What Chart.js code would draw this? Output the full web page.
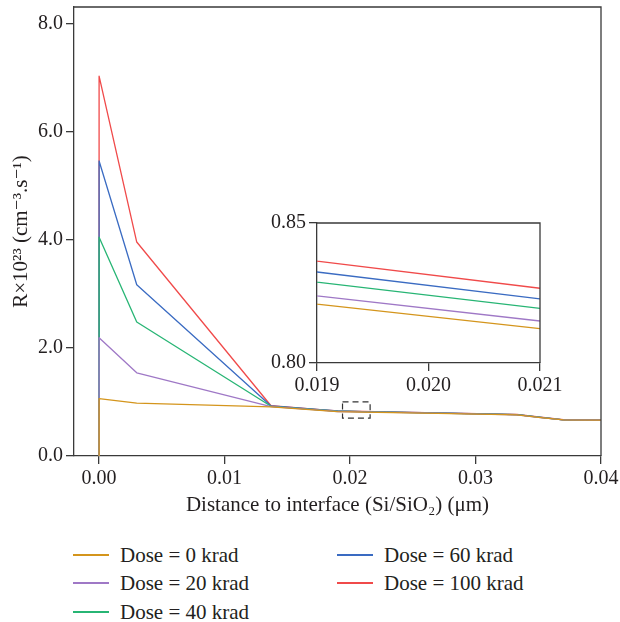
<!DOCTYPE html>
<html><head><meta charset="utf-8">
<script src="https://cdn.jsdelivr.net/npm/chart.js@4.4.1/dist/chart.umd.min.js"></script>
<style>
html,body{margin:0;padding:0;background:#fff;}
#wrap{position:relative;width:620px;height:622px;overflow:hidden;}
#main{position:absolute;left:0;top:0;}
#inset{position:absolute;left:262px;top:209px;}
.leg{position:absolute;font-family:"Liberation Serif","DejaVu Serif",serif;font-size:21px;color:#231f20;line-height:24px;white-space:nowrap;}
.leg span.sw{position:absolute;left:0;top:11px;width:36px;height:2px;}
.leg span.tx{position:absolute;left:47px;top:0;}
</style></head>
<body><div id="wrap">
<canvas id="main" width="620" height="530"></canvas>
<canvas id="inset" width="300" height="190"></canvas>
<div id="legend"></div>
</div>
<script>
// ---- data ----
const distance = [0, 0, 0.003, 0.0137, 0.0176, 0.019, 0.021, 0.027, 0.0333, 0.0352, 0.037, 0.04];
const dose0   = [0, 1.06, 0.98, 0.910, 0.845, 0.8210, 0.8123, 0.790, 0.760, 0.710, 0.667, 0.665];
const dose20  = [0, 2.19, 1.54, 0.915, 0.848, 0.8240, 0.8150, 0.792, 0.762, 0.712, 0.668, 0.666];
const dose40  = [0, 4.05, 2.48, 0.920, 0.852, 0.8289, 0.8195, 0.795, 0.764, 0.714, 0.669, 0.667];
const dose60  = [0, 5.46, 3.17, 0.925, 0.856, 0.8325, 0.8229, 0.798, 0.766, 0.716, 0.670, 0.668];
const dose100 = [0, 7.03, 3.96, 0.930, 0.860, 0.8364, 0.8267, 0.800, 0.768, 0.718, 0.671, 0.669];
const seriesLabels = ['Dose = 0 krad', 'Dose = 20 krad', 'Dose = 40 krad', 'Dose = 60 krad', 'Dose = 100 krad'];
const seriesValues = [dose0, dose20, dose40, dose60, dose100];
const seriesColors = ['#d4951c', '#9f78c6', '#27b574', '#3a6bc2', '#f04a4a'];
const xTicks = [0, 0.01, 0.02, 0.03, 0.04];
const yTicks = [0, 2, 4, 6, 8];
const insetXTicks = [0.019, 0.020, 0.021];
const insetYTicks = [0.80, 0.85];
const zoomBoxX = [0.0194, 0.0216];
const zoomBoxY = [0.70, 1.0];

const FONT = {family: '"Liberation Serif", "DejaVu Serif", serif', size: 20};
const TFONT = {family: '"Liberation Serif", "DejaVu Serif", serif', size: 21};
const TXT = '#231f20';
const AX = '#3a3a3a';

function makeDatasets(){
  return seriesValues.map((vals, i) => ({
    label: seriesLabels[i],
    data: distance.map((d, j) => ({x: d, y: vals[j]})),
    borderColor: seriesColors[i],
    backgroundColor: seriesColors[i],
    borderWidth: 1.3,
    borderJoinStyle: 'round',
    pointRadius: 0,
    tension: 0,
    fill: false
  }));
}

const framePlugin = {
  id: 'frame',
  afterDraw(chart){
    const {ctx, chartArea: a} = chart;
    ctx.save();
    ctx.strokeStyle = AX; ctx.lineWidth = 1.3;
    ctx.beginPath();
    ctx.moveTo(a.left, a.top); ctx.lineTo(a.right, a.top); ctx.lineTo(a.right, a.bottom);
    ctx.stroke();
    ctx.restore();
  }
};
const boxPlugin = {
  id: 'zoombox',
  afterDatasetsDraw(chart){
    const {ctx, scales:{x, y}} = chart;
    const x0 = x.getPixelForValue(zoomBoxX[0]), x1 = x.getPixelForValue(zoomBoxX[1]);
    const y0 = y.getPixelForValue(zoomBoxY[1]), y1 = y.getPixelForValue(zoomBoxY[0]);
    ctx.save();
    ctx.strokeStyle = '#333'; ctx.lineWidth = 1.2; ctx.setLineDash([6, 4]);
    ctx.strokeRect(x0, y0, x1 - x0, y1 - y0);
    ctx.restore();
  }
};

function axis(min, max, ticks, fmt, extra){
  return Object.assign({
    type: 'linear', min, max,
    afterBuildTicks: s => { s.ticks = ticks.map(v => ({value: v})); },
    ticks: {callback: v => Number(v).toFixed(fmt), font: FONT, color: TXT, autoSkip: false, maxRotation: 0, padding: 3},
    grid: {drawOnChartArea: false, drawTicks: true, tickLength: 8, color: AX, lineWidth: 1.3},
    border: {display: true, color: AX, width: 1.3}
  }, extra);
}

new Chart(document.getElementById('main'), {
  type: 'line',
  data: {datasets: makeDatasets()},
  options: {
    responsive: false, animation: false,
    layout: {padding: {left: 0, top: 7, right: 19, bottom: 12}},
    plugins: {legend: {display: false}, tooltip: {enabled: false}},
    scales: {
      x: axis(-0.002, 0.04, xTicks, 2, {
        title: {display: true, text: 'Distance to interface (Si/SiO₂) (μm)', font: TFONT, color: TXT, padding: {top: 0, bottom: 0}},
        afterFit: s => { s.height = 62; s.paddingLeft = 0; s.paddingRight = 0; }
      }),
      y: axis(0, 8.31, yTicks, 1, {
        title: {display: true, text: 'R×10²³ (cm⁻³.s⁻¹)', font: TFONT, color: TXT, padding: {top: 9, bottom: 0}},
        afterFit: s => { s.width = 74; s.paddingTop = 0; s.paddingBottom = 0; }
      })
    }
  },
  plugins: [framePlugin, boxPlugin]
});

new Chart(document.getElementById('inset'), {
  type: 'line',
  data: {datasets: makeDatasets()},
  options: {
    responsive: false, animation: false,
    layout: {padding: {left: 0, top: 14, right: 22, bottom: 0}},
    plugins: {legend: {display: false}, tooltip: {enabled: false}},
    scales: {
      x: axis(0.019, 0.021, insetXTicks, 3, {
        afterFit: s => { s.height = 36; s.paddingLeft = 0; s.paddingRight = 0; }
      }),
      y: axis(0.80, 0.85, insetYTicks, 2, {
        afterFit: s => { s.width = 55; s.paddingTop = 0; s.paddingBottom = 0; }
      })
    }
  },
  plugins: [framePlugin]
});

// legend (HTML, built from the series arrays)
const legPos = [[73, 543], [73, 571], [73, 600], [337, 543], [337, 571]];
const legend = document.getElementById('legend');
seriesLabels.forEach((lab, i) => {
  const d = document.createElement('div');
  d.className = 'leg';
  d.style.left = legPos[i][0] + 'px';
  d.style.top = legPos[i][1] + 'px';
  d.innerHTML = '<span class="sw" style="background:' + seriesColors[i] + '"></span><span class="tx">' + lab + '</span>';
  legend.appendChild(d);
});
</script>
</body></html>
